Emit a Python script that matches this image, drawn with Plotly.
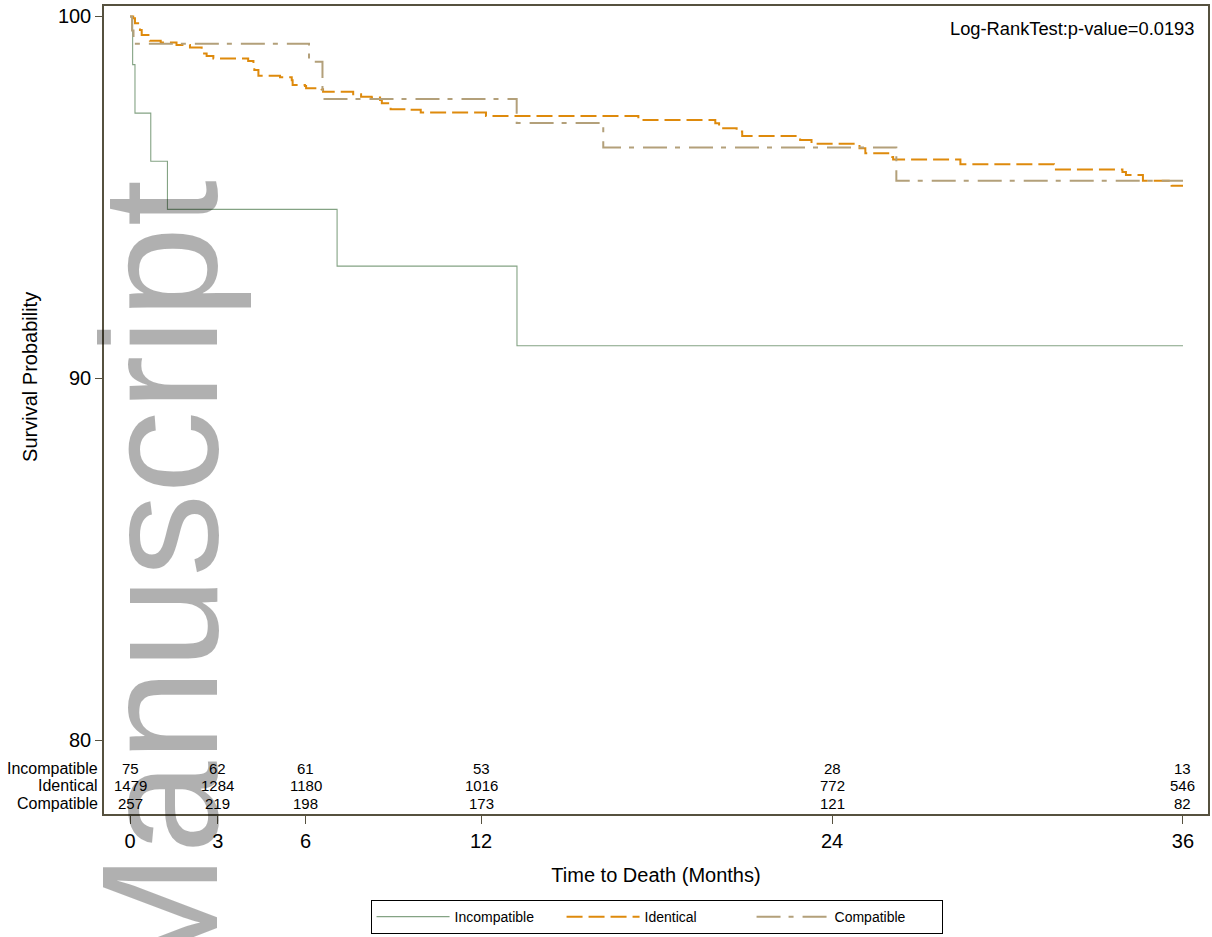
import plotly.graph_objects as go

# Kaplan-Meier survival estimates (time in months, survival in %)
incompat_t = [0, 0.09, 0.17, 0.71, 1.28, 7.08, 13.23, 36]
incompat_s = [100, 98.67, 97.33, 96.0, 94.67, 93.1, 90.9, 90.9]

ident_t = [0, 0.11, 0.17, 0.34, 0.40, 0.63, 0.68, 1.05, 1.59, 2.05, 2.45, 2.62,
           2.85, 4.04, 4.22, 4.25, 4.39, 5.13, 5.53, 5.56, 5.98, 6.02, 6.55, 6.60,
           7.63, 7.90, 8.26, 8.55, 8.61, 8.91, 9.46, 9.94, 12.17, 17.38, 20.01,
           20.14, 20.74, 20.93, 22.91, 23.30, 24.94, 25.14, 26.06, 26.09, 28.39,
           31.59, 33.93, 34.05, 34.63, 35.61, 36]
ident_s = [100, 99.95, 99.81, 99.63, 99.49, 99.43, 99.33, 99.28, 99.21, 99.14,
           98.98, 98.91, 98.84, 98.77, 98.71, 98.52, 98.36, 98.32, 98.24, 98.11,
           98.08, 98.02, 97.99, 97.92, 97.85, 97.78, 97.76, 97.69, 97.60, 97.44,
           97.42, 97.35, 97.25, 97.14, 97.05, 96.91, 96.82, 96.70, 96.59, 96.48,
           96.36, 96.22, 96.12, 96.05, 95.92, 95.77, 95.70, 95.62, 95.46, 95.32,
           95.32]

compat_t = [0, 0.07, 0.12, 6.12, 6.58, 13.22, 16.18, 26.2, 36]
compat_s = [100, 99.61, 99.25, 98.75, 97.72, 97.06, 96.38, 95.46, 95.46]

# Numbers at risk
risk_times = [0, 3, 6, 12, 24, 36]
risk_groups = ["Incompatible", "Identical", "Compatible"]
risk_incompat = [75, 62, 61, 53, 28, 13]
risk_ident = [1479, 1284, 1180, 1016, 772, 546]
risk_compat = [257, 219, 198, 173, 121, 82]

x_ticks = [0, 3, 6, 12, 24, 36]
y_ticks = [80, 90, 100]

FONT = "Liberation Sans, Arial, Helvetica, sans-serif"
AXIS_COLOR = "#56513f"

fig = go.Figure()
fig.add_trace(go.Scatter(
    x=incompat_t, y=incompat_s, mode="lines", line_shape="hv",
    name="Incompatible", line=dict(color="#84a384", width=1.1)))
fig.add_trace(go.Scatter(
    x=ident_t, y=ident_s, mode="lines", line_shape="hv",
    name="Identical", line=dict(color="#de8a0c", width=2, dash="16px,6px")))
fig.add_trace(go.Scatter(
    x=compat_t, y=compat_s, mode="lines", line_shape="hv",
    name="Compatible", line=dict(color="#b3a07a", width=2, dash="24px,8px,5px,9px")))

annotations = []
# number-at-risk table inside the plot region
row_y = [0.0569, 0.0347, 0.0124]
for label, vals, ry in zip(risk_groups, [risk_incompat, risk_ident, risk_compat], row_y):
    annotations.append(dict(x=-0.004, y=ry, xref="paper", yref="paper", text=label,
                            showarrow=False, xanchor="right", yanchor="middle",
                            font=dict(family=FONT, size=16, color="black")))
    for t, v in zip(risk_times, vals):
        annotations.append(dict(x=t, y=ry, xref="x", yref="paper", text=str(v),
                                showarrow=False, xanchor="center", yanchor="middle",
                                font=dict(family=FONT, size=15, color="black")))

annotations.append(dict(x=0.989, y=0.972, xref="paper", yref="paper",
                        text="Log-RankTest:p-value=0.0193", showarrow=False,
                        xanchor="right", yanchor="middle",
                        font=dict(family=FONT, size=18.3, color="black")))

# y-axis title, centred on the 80-100 span
annotations.append(dict(x=-0.067, y=0.541, xref="paper", yref="paper",
                        text="Survival Probability", showarrow=False, textangle=-90,
                        xanchor="center", yanchor="middle",
                        font=dict(family=FONT, size=20, color="black")))

# vertical "Manuscript" watermark
annotations.append(dict(x=0.0498, y=0.787, xref="paper", yref="paper",
                        text="Manuscript", showarrow=False, textangle=-90,
                        xanchor="center", yanchor="top",
                        font=dict(family=FONT, size=166, color="rgba(0,0,0,0.31)")))

fig.update_layout(
    width=1212, height=937,
    margin=dict(l=104, r=4, t=6, b=123, autoexpand=False),
    paper_bgcolor="white", plot_bgcolor="white",
    font=dict(family=FONT, color="black"),
    showlegend=True,
    legend=dict(orientation="h", x=0.5005, y=-0.1065, xanchor="center", yanchor="top",
                bordercolor="black", borderwidth=1, bgcolor="white",
                font=dict(family=FONT, size=14, color="black"),
                itemwidth=73, entrywidth=102, traceorder="normal"),
    annotations=annotations,
)

fig.update_xaxes(
    range=[-0.889, 36.855], tickvals=x_ticks, ticktext=[str(v) for v in x_ticks],
    ticks="outside", ticklen=8, tickcolor=AXIS_COLOR, tickwidth=1,
    showline=True, linecolor=AXIS_COLOR, linewidth=1.5, mirror=True,
    showgrid=False, zeroline=False,
    tickfont=dict(family=FONT, size=20, color="black"),
    title=dict(text="Time to Death (Months)", standoff=17,
               font=dict(family=FONT, size=20, color="black")),
)
fig.update_yaxes(
    range=[77.96, 100.29], tickvals=y_ticks, ticktext=[str(v) for v in y_ticks],
    ticks="outside", ticklen=7, tickcolor=AXIS_COLOR, tickwidth=1,
    showline=True, linecolor=AXIS_COLOR, linewidth=1.5, mirror=True,
    showgrid=False, zeroline=False,
    tickfont=dict(family=FONT, size=20, color="black"),
)

fig.write_html("out.html")
